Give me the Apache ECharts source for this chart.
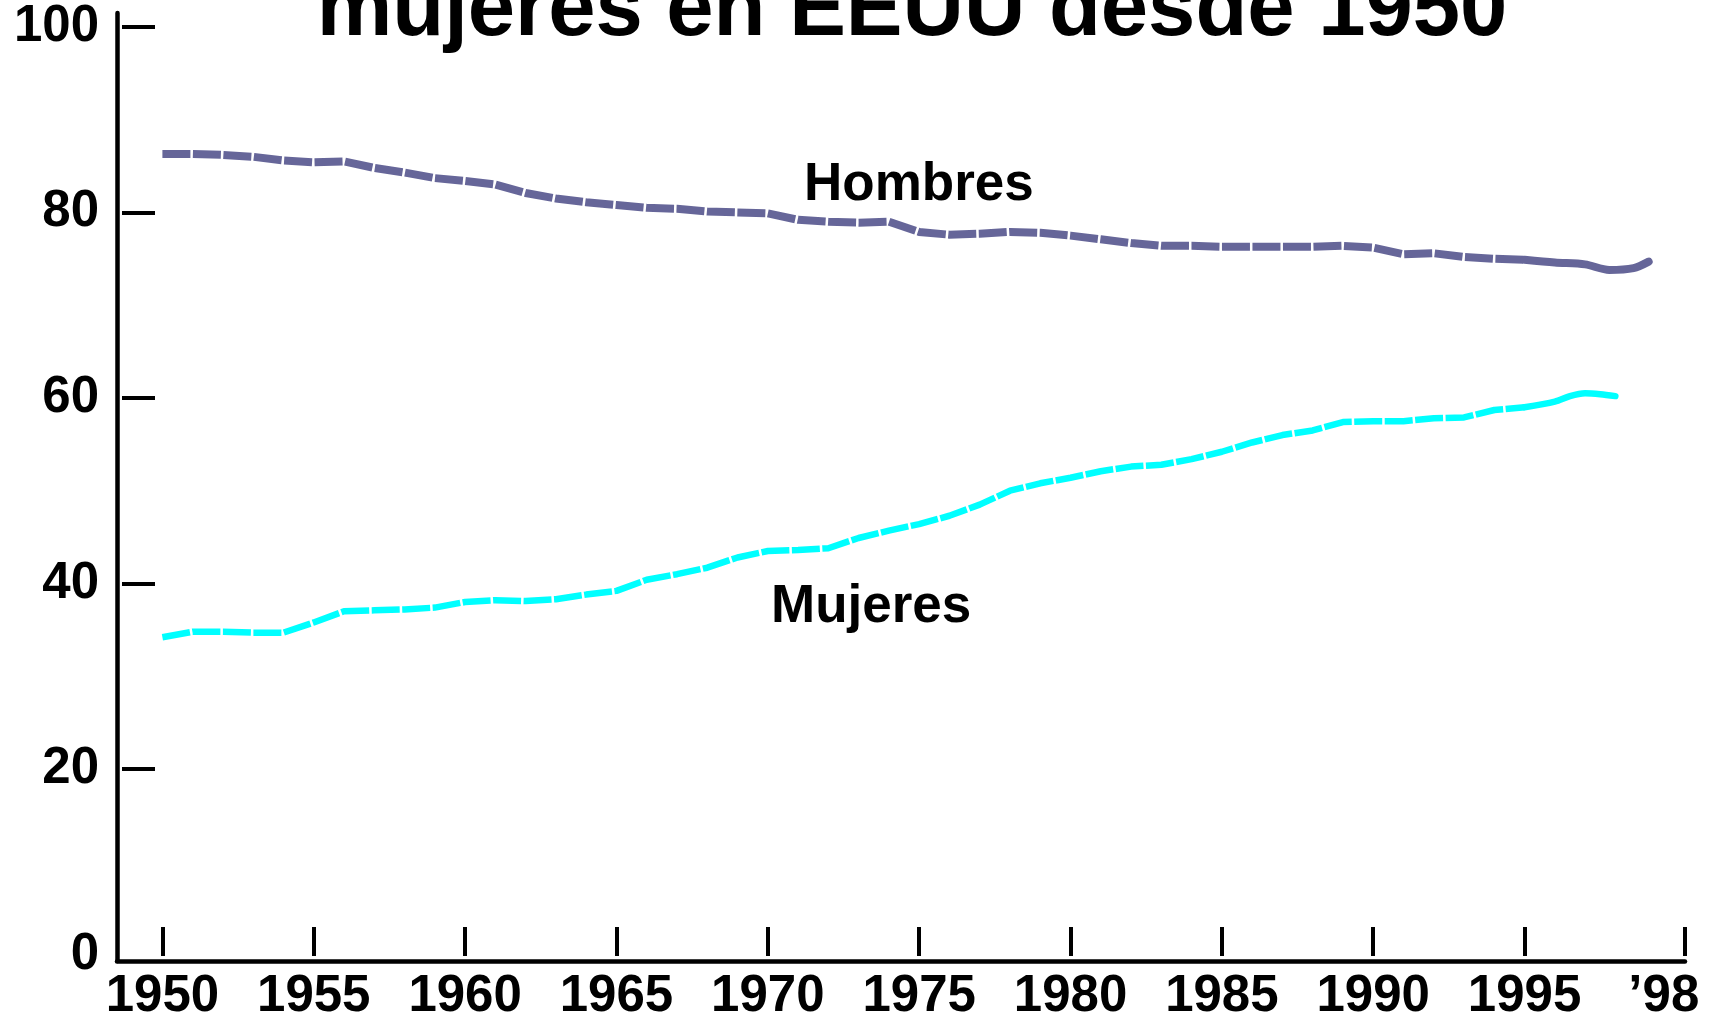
<!DOCTYPE html>
<html>
<head>
<meta charset="utf-8">
<script src="https://cdn.jsdelivr.net/npm/echarts@6/dist/echarts.min.js"></script>
<style>
html, body { margin: 0; padding: 0; background: #ffffff; }
#chart { width: 1709px; height: 1022px; }
</style>
</head>
<body>
<div id="chart"></div>
<script>
// años y tasas (%)
const hombresYears = [1950, 1951, 1952, 1953, 1954, 1955, 1956, 1957, 1958, 1959,
  1960, 1961, 1962, 1963, 1964, 1965, 1966, 1967, 1968, 1969,
  1970, 1971, 1972, 1973, 1974, 1975, 1976, 1977, 1978, 1979,
  1980, 1981, 1982, 1983, 1984, 1985, 1986, 1987, 1988, 1989,
  1990, 1991, 1992, 1993, 1994, 1995, 1996, 1997, 1997.8, 1998.6, 1999.1]
const hombres = [86.3, 86.3, 86.2, 86.0, 85.6, 85.4, 85.5, 84.8, 84.3, 83.7,
  83.4, 83.0, 82.1, 81.5, 81.1, 80.8, 80.5, 80.4, 80.1, 80.0,
  79.9, 79.2, 79.0, 78.9, 79.0, 77.9, 77.6, 77.7, 77.9, 77.8,
  77.5, 77.1, 76.7, 76.4, 76.4, 76.3, 76.3, 76.3, 76.3, 76.4,
  76.2, 75.5, 75.6, 75.2, 75.0, 74.9, 74.6, 74.4, 73.8, 74.0, 74.7]

const mujeresYears = [1950, 1951, 1952, 1953, 1954, 1955, 1956, 1957, 1958, 1959,
  1960, 1961, 1962, 1963, 1964, 1965, 1966, 1967, 1968, 1969,
  1970, 1971, 1972, 1973, 1974, 1975, 1976, 1977, 1978, 1979,
  1980, 1981, 1982, 1983, 1984, 1985, 1986, 1987, 1988, 1989,
  1990, 1991, 1992, 1993, 1994, 1995, 1996, 1996.5, 1997, 1997.5, 1998]
const mujeres = [34.2, 34.8, 34.8, 34.7, 34.7, 35.8, 37.0, 37.1, 37.2, 37.4,
  38.0, 38.2, 38.1, 38.3, 38.8, 39.2, 40.4, 41.0, 41.7, 42.8,
  43.5, 43.6, 43.8, 44.9, 45.7, 46.4, 47.3, 48.5, 50.0, 50.8,
  51.4, 52.1, 52.6, 52.8, 53.4, 54.2, 55.2, 56.0, 56.5, 57.4,
  57.5, 57.5, 57.8, 57.9, 58.7, 59.0, 59.6, 60.2, 60.5, 60.4, 60.2]

// desde 1995 la línea es continua
const solidFrom = 1995

const xTicks = [1950, 1955, 1960, 1965, 1970, 1975, 1980, 1985, 1990, 1995, 2000.3]
const xLabels = [1950, 1955, 1960, 1965, 1970, 1975, 1980, 1985, 1990, 1995, 1999.6]
const yTicks = [20, 40, 60, 80, 100]
const yLabels = [0, 20, 40, 60, 80, 100]

const FONT = '"Liberation Sans", Arial, Helvetica, sans-serif'

function pairs (xs, ys, from, to) {
  let out = []
  xs.forEach((x, i) => {
    if (x >= from && x <= to) out.push([x, ys[i]])
  })
  return out
}

const chart = echarts.init(document.getElementById('chart'))

const xBase = {
  type: 'value',
  min: 1948.5,
  max: 2000.3,
  position: 'bottom',
  splitLine: { show: false }
}
const yBase = {
  type: 'value',
  min: -0.7,
  max: 101.5,
  position: 'left',
  splitLine: { show: false }
}

chart.setOption({
  animation: false,
  backgroundColor: '#ffffff',
  grid: { left: 117, right: 24, top: 13, bottom: 58.5 },
  xAxis: [
    Object.assign({}, xBase, {
      axisLine: { show: true, onZero: false, lineStyle: { color: '#000', width: 4.5 } },
      axisTick: { show: false },
      axisLabel: { show: false }
    }),
    Object.assign({}, xBase, {
      offset: -5,
      axisLine: { show: false, onZero: false },
      axisTick: { show: true, inside: true, length: 29, customValues: xTicks, lineStyle: { color: '#000', width: 4 } },
      axisLabel: {
        customValues: xLabels,
        margin: 15,
        color: '#000',
        fontSize: 51,
        fontWeight: 'bold',
        fontFamily: FONT,
        formatter: function (v) { return v > 1997 ? '\u201998' : String(v) }
      }
    })
  ],
  yAxis: [
    Object.assign({}, yBase, {
      axisLine: { show: true, onZero: false, lineStyle: { color: '#000', width: 4.5 } },
      axisTick: { show: false },
      axisLabel: { show: false }
    }),
    Object.assign({}, yBase, {
      offset: -5,
      axisLine: { show: false, onZero: false },
      axisTick: { show: true, inside: true, length: 33, customValues: yTicks, lineStyle: { color: '#000', width: 4 } },
      axisLabel: {
        customValues: yLabels,
        margin: 23,
        color: '#000',
        fontSize: 51,
        fontWeight: 'bold',
        fontFamily: FONT
      }
    })
  ],
  series: [
    {
      name: 'Hombres',
      type: 'line',
      symbol: 'none',
      data: pairs(hombresYears, hombres, 0, solidFrom),
      lineStyle: { color: '#666699', width: 8, type: [28, 2.5] }
    },
    {
      name: 'Hombres',
      type: 'line',
      symbol: 'none',
      smooth: 0.3,
      data: pairs(hombresYears, hombres, solidFrom, 3000),
      lineStyle: { color: '#666699', width: 8, cap: 'round' }
    },
    {
      name: 'Mujeres',
      type: 'line',
      symbol: 'none',
      data: pairs(mujeresYears, mujeres, 0, solidFrom),
      lineStyle: { color: '#00ffff', width: 6.5, type: [28, 2.5] }
    },
    {
      name: 'Mujeres',
      type: 'line',
      symbol: 'none',
      smooth: 0.3,
      data: pairs(mujeresYears, mujeres, solidFrom, 3000),
      lineStyle: { color: '#00ffff', width: 6.5, cap: 'round' }
    }
  ],
  graphic: [
    {
      type: 'text',
      x: 912,
      y: 12,
      style: {
        text: 'mujeres en EEUU desde 1950',
        font: 'bold 85px ' + FONT,
        fill: '#000',
        align: 'center', textAlign: 'center',
        verticalAlign: 'middle', textVerticalAlign: 'middle'
      }
    },
    {
      type: 'text',
      x: 804,
      y: 185,
      style: {
        text: 'Hombres',
        font: 'bold 53px ' + FONT,
        fill: '#000',
        align: 'left', textAlign: 'left',
        verticalAlign: 'middle', textVerticalAlign: 'middle'
      }
    },
    {
      type: 'text',
      x: 771,
      y: 607,
      style: {
        text: 'Mujeres',
        font: 'bold 53px ' + FONT,
        fill: '#000',
        align: 'left', textAlign: 'left',
        verticalAlign: 'middle', textVerticalAlign: 'middle'
      }
    }
  ]
})
</script>
</body>
</html>
